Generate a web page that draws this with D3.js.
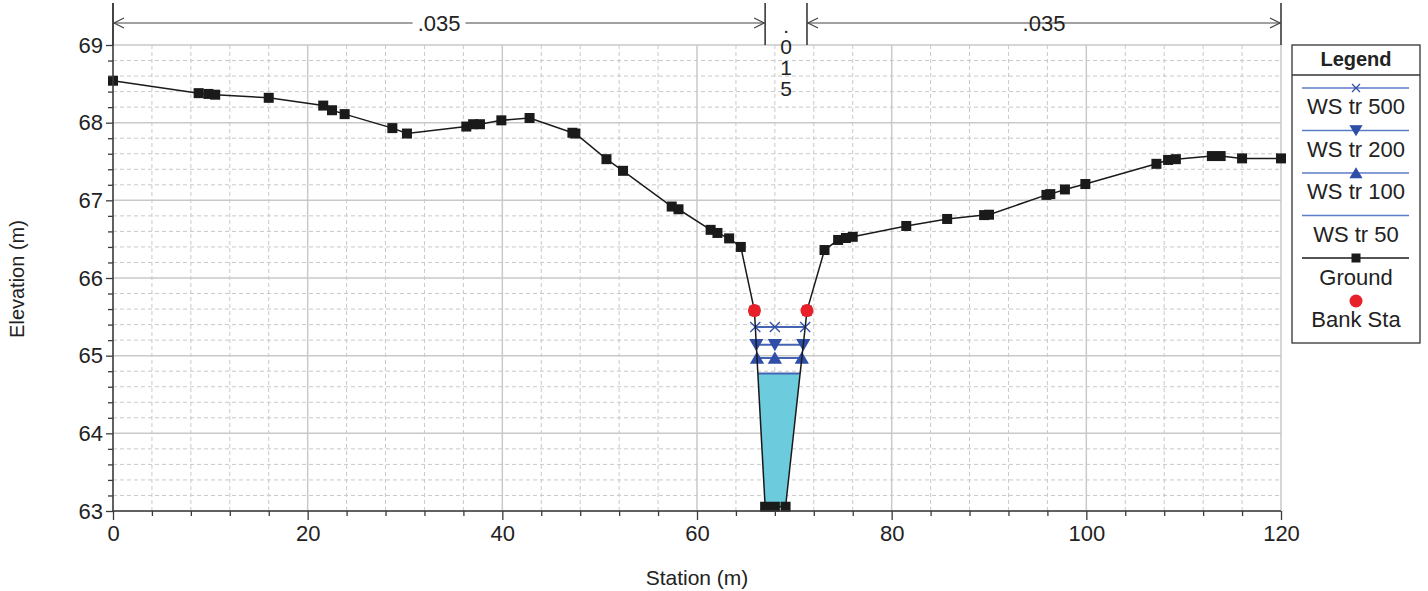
<!DOCTYPE html>
<html>
<head>
<meta charset="utf-8">
<script src="https://cdn.jsdelivr.net/npm/d3@7"></script>
<style>
  html, body { margin: 0; padding: 0; background: #fff; }
  svg { display: block; font-family: "Liberation Sans", Arial, sans-serif; }
</style>
</head>
<body>
<svg id="chart" width="1428" height="591"></svg>
<script>
// ---------- data ----------
const groundSta = [0, 8.8, 9.8, 10.5, 16.0, 21.6, 22.5, 23.8, 28.7, 30.2, 36.3, 37.0, 37.7, 39.9, 42.8, 47.2, 47.5,
  50.7, 52.4, 57.4, 58.1, 61.4, 62.1, 63.3, 64.5, 65.9, 67.0, 68.0, 69.1, 71.3, 73.1, 74.5, 75.3, 76.0, 81.5, 85.7,
  89.5, 90.0, 95.9, 96.3, 97.8, 99.9, 107.2, 108.4, 109.2, 112.9, 113.8, 116.0, 120];
const groundElev = [68.54, 68.38, 68.37, 68.36, 68.32, 68.22, 68.16, 68.11, 67.93, 67.86, 67.95, 67.98, 67.98, 68.03,
  68.06, 67.87, 67.86, 67.53, 67.38, 66.92, 66.885, 66.62, 66.58, 66.51, 66.40, 65.58, 63.055, 63.055, 63.055, 65.58,
  66.36, 66.49, 66.515, 66.53, 66.67, 66.76, 66.81, 66.815, 67.07, 67.08, 67.14, 67.21, 67.47, 67.52, 67.53, 67.57,
  67.57, 67.54, 67.54];
const bankSta = [65.9, 71.3];
const bankElev = [65.58, 65.58];
const wsNames = ["WS tr 500", "WS tr 200", "WS tr 100", "WS tr 50"];
const wsElev = [65.37, 65.14, 64.97, 64.77];
const wsMarkers = ["cross", "triDown", "triUp", "none"];
const nBreaks = [0, 67.0, 71.3, 120];
const nValues = [".035", ".015", ".035"];
const xMajorTicks = [0, 20, 40, 60, 80, 100, 120];
const yMajorTicks = [63, 64, 65, 66, 67, 68, 69];
const legendItems = ["WS tr 500", "WS tr 200", "WS tr 100", "WS tr 50", "Ground", "Bank Sta"];

// ---------- layout ----------
const svg = d3.select("#chart");
const x = d3.scaleLinear().domain([0, 120]).range([113, 1281]);
const y = d3.scaleLinear().domain([63, 69]).range([511, 45]);
const xMinor = d3.range(0, 120.001, 4).filter(v => v % 20 !== 0);
const yMinor = d3.range(63, 69.0001, 0.2).map(v => +v.toFixed(1)).filter(v => Math.abs(v - Math.round(v)) > 1e-6);

const gridCol = "#c9c9c9", axisCol = "#3a3a3a", wsCol = "#4564b4", mkCol = "#2e4ea8";

svg.append("rect").attr("width", 1428).attr("height", 591).attr("fill", "#fff");

// grid
const grid = svg.append("g");
grid.selectAll(".vmin").data(xMinor).join("line")
  .attr("x1", d => x(d)).attr("x2", d => x(d)).attr("y1", y(69)).attr("y2", y(63))
  .attr("stroke", gridCol).attr("stroke-dasharray", "4,3").attr("stroke-width", 1);
grid.selectAll(".hmin").data(yMinor).join("line")
  .attr("y1", d => y(d)).attr("y2", d => y(d)).attr("x1", x(0)).attr("x2", x(120))
  .attr("stroke", gridCol).attr("stroke-dasharray", "4,3").attr("stroke-width", 1);
grid.selectAll(".vmaj").data(xMajorTicks).join("line")
  .attr("x1", d => x(d)).attr("x2", d => x(d)).attr("y1", y(69)).attr("y2", y(63))
  .attr("stroke", gridCol).attr("stroke-width", 1.5);
grid.selectAll(".hmaj").data(yMajorTicks).join("line")
  .attr("y1", d => y(d)).attr("y2", d => y(d)).attr("x1", x(0)).attr("x2", x(120))
  .attr("stroke", gridCol).attr("stroke-width", 1.5);

// ---------- water surface geometry ----------
const minE = d3.min(groundElev);
const bottomIdx = groundElev.map((e, i) => e === minE ? i : -1).filter(i => i >= 0);
const iLow = bottomIdx[0], iHigh = bottomIdx[bottomIdx.length - 1];
const midSta = groundSta[bottomIdx[Math.floor(bottomIdx.length / 2)]];
function crossings(level) {
  let left = null, right = null;
  for (let i = iLow; i > 0; i--) {
    if (groundElev[i - 1] >= level && groundElev[i] <= level) {
      const t = (level - groundElev[i]) / (groundElev[i - 1] - groundElev[i]);
      left = { s: groundSta[i] + t * (groundSta[i - 1] - groundSta[i]), i: i }; break;
    }
  }
  for (let i = iHigh; i < groundSta.length - 1; i++) {
    if (groundElev[i + 1] >= level && groundElev[i] <= level) {
      const t = (level - groundElev[i]) / (groundElev[i + 1] - groundElev[i]);
      right = { s: groundSta[i] + t * (groundSta[i + 1] - groundSta[i]), i: i }; break;
    }
  }
  return [left, right];
}

// fill for lowest WS
const lowIdx = wsElev.length - 1;
const [fl, fr] = crossings(wsElev[lowIdx]);
const poly = [[fl.s, wsElev[lowIdx]]];
for (let i = fl.i; i <= fr.i; i++) poly.push([groundSta[i], groundElev[i]]);
poly.push([fr.s, wsElev[lowIdx]]);
svg.append("path")
  .attr("d", d3.line().x(d => x(d[0])).y(d => y(d[1]))(poly) + "Z")
  .attr("fill", "#6ccbdc").attr("stroke", "none");

// WS lines
const markerPath = {
  cross: s => `M${-s},${-s}L${s},${s}M${-s},${s}L${s},${-s}`,
  triDown: s => `M${-s},${-s * 0.85}L${s},${-s * 0.85}L0,${s * 0.85}Z`,
  triUp: s => `M${-s},${s * 0.85}L${s},${s * 0.85}L0,${-s * 0.85}Z`,
  none: s => ""
};
wsElev.forEach((lev, k) => {
  const [l, r] = crossings(lev);
  svg.append("line").attr("x1", x(l.s)).attr("x2", x(r.s)).attr("y1", y(lev)).attr("y2", y(lev))
    .attr("stroke", wsCol).attr("stroke-width", 2);
  if (wsMarkers[k] !== "none") {
    const pts = [l.s, midSta, r.s];
    svg.selectAll(null).data(pts).join("path")
      .attr("transform", d => `translate(${x(d)},${y(lev)})`)
      .attr("d", markerPath[wsMarkers[k]](wsMarkers[k] === "cross" ? 5 : 6))
      .attr("fill", wsMarkers[k] === "cross" ? "none" : mkCol)
      .attr("stroke", mkCol).attr("stroke-width", 1.3);
  }
});

// ground
const groundPts = groundSta.map((s, i) => [s, groundElev[i]]);
svg.append("path").attr("d", d3.line().x(d => x(d[0])).y(d => y(d[1]))(groundPts))
  .attr("fill", "none").attr("stroke", "#1a1a1a").attr("stroke-width", 1.5);
svg.selectAll(null).data(groundPts).join("rect")
  .attr("x", d => x(d[0]) - 5).attr("y", d => y(d[1]) - 5).attr("width", 10).attr("height", 10)
  .attr("fill", "#1a1a1a");

// bank stations
svg.selectAll(null).data(bankSta).join("circle")
  .attr("cx", d => x(d)).attr("cy", (d, i) => y(bankElev[i])).attr("r", 6.5).attr("fill", "#e8202a");

// ---------- axes ----------
const tickFont = 22;
const yAxisMaj = d3.axisLeft(y).tickValues(yMajorTicks).tickSize(7).tickPadding(3).tickFormat(d3.format("d"));
const yAxisMin = d3.axisLeft(y).tickValues(yMinor).tickSize(5).tickFormat("");
const xAxisMaj = d3.axisBottom(x).tickValues(xMajorTicks).tickSize(9).tickPadding(5).tickFormat(d3.format("d"));
const xAxisMin = d3.axisBottom(x).tickValues(xMinor).tickSize(5).tickFormat("");

function styleAxis(g) {
  g.select(".domain").remove();
  g.selectAll(".tick line").attr("stroke", axisCol).attr("stroke-width", 1.3);
  g.selectAll(".tick text").attr("fill", "#222").style("font-size", tickFont + "px")
    .style("font-family", '"Liberation Sans", Arial, sans-serif');
}
svg.append("g").attr("transform", `translate(${x(0)},0)`).call(yAxisMin).call(styleAxis);
svg.append("g").attr("transform", `translate(${x(0)},0)`).call(yAxisMaj).call(styleAxis);
svg.append("g").attr("transform", `translate(0,${y(63)})`).call(xAxisMin).call(styleAxis);
svg.append("g").attr("transform", `translate(0,${y(63)})`).call(xAxisMaj).call(styleAxis);

// axis lines
svg.append("line").attr("x1", x(0)).attr("x2", x(0)).attr("y1", 3).attr("y2", y(63))
  .attr("stroke", axisCol).attr("stroke-width", 1.5);
svg.append("line").attr("x1", x(0)).attr("x2", x(120)).attr("y1", y(63)).attr("y2", y(63))
  .attr("stroke", axisCol).attr("stroke-width", 1.5);

// axis titles
svg.append("text").attr("x", x(60)).attr("y", 585).attr("text-anchor", "middle")
  .style("font-size", "21px").attr("fill", "#222").text("Station (m)");
svg.append("text").attr("transform", `translate(24,${(3 + y(63)) / 2 + 22}) rotate(-90)`)
  .attr("text-anchor", "middle").style("font-size", "20px").attr("fill", "#222").text("Elevation (m)");

// ---------- Manning's n annotations ----------
const annY = 23;
const ann = svg.append("g");
nBreaks.forEach(b => {
  ann.append("line").attr("x1", x(b)).attr("x2", x(b)).attr("y1", 3).attr("y2", y(69))
    .attr("stroke", axisCol).attr("stroke-width", 1.6);
});
nValues.forEach((v, k) => {
  const x0 = x(nBreaks[k]), x1 = x(nBreaks[k + 1]);
  const cx = (x0 + x1) / 2;
  if (x1 - x0 > 80) {
    ann.append("line").attr("x1", x0).attr("x2", x1).attr("y1", annY).attr("y2", annY)
      .attr("stroke", "#444").attr("stroke-width", 1.2);
    ann.append("path").attr("d", `M${x0 + 11},${annY - 5}L${x0 + 1},${annY}L${x0 + 11},${annY + 5}`)
      .attr("fill", "none").attr("stroke", "#444").attr("stroke-width", 1.2);
    ann.append("path").attr("d", `M${x1 - 11},${annY - 5}L${x1 - 1},${annY}L${x1 - 11},${annY + 5}`)
      .attr("fill", "none").attr("stroke", "#444").attr("stroke-width", 1.2);
    const t = ann.append("text").attr("x", cx).attr("y", annY + 8).attr("text-anchor", "middle")
      .style("font-size", "22px").attr("fill", "#222").text(v);
    const bb = t.node().getBBox();
    ann.insert("rect", "text").attr("x", bb.x - 5).attr("y", annY - 3).attr("width", bb.width + 10).attr("height", 6)
      .attr("fill", "#fff");
  } else {
    v.split("").forEach((ch, j) => {
      ann.append("text").attr("x", cx).attr("y", 33 + j * 21).attr("text-anchor", "middle")
        .style("font-size", "21px").attr("fill", "#222").text(ch);
    });
  }
});

// ---------- legend ----------
const lg = svg.append("g");
const lx0 = 1292, lx1 = 1420, lcx = (lx0 + lx1) / 2;
lg.append("rect").attr("x", lx0).attr("y", 45).attr("width", lx1 - lx0).attr("height", 298)
  .attr("fill", "#fff").attr("stroke", "#333").attr("stroke-width", 1.3);
lg.append("line").attr("x1", lx0).attr("x2", lx1).attr("y1", 75).attr("y2", 75)
  .attr("stroke", "#333").attr("stroke-width", 1.3);
lg.append("text").attr("x", lcx).attr("y", 66).attr("text-anchor", "middle")
  .style("font-size", "20px").style("font-weight", "bold").attr("fill", "#222").text("Legend");
const lineYs = [88, 130.5, 173, 215.5, 258];
legendItems.forEach((name, k) => {
  if (k < 4) {
    const ly = lineYs[k];
    lg.append("line").attr("x1", 1302).attr("x2", 1409).attr("y1", ly).attr("y2", ly)
      .attr("stroke", "#5d7cc6").attr("stroke-width", 1.5);
    if (wsMarkers[k] !== "none") {
      lg.append("path").attr("transform", `translate(${lcx},${ly})`)
        .attr("d", markerPath[wsMarkers[k]](wsMarkers[k] === "cross" ? 4 : 5.5))
        .attr("fill", wsMarkers[k] === "cross" ? "none" : mkCol)
        .attr("stroke", mkCol).attr("stroke-width", 1.2);
    }
    lg.append("text").attr("x", lcx).attr("y", ly + 26).attr("text-anchor", "middle")
      .style("font-size", "22px").attr("fill", "#222").text(name);
  } else if (k === 4) {
    const ly = lineYs[4];
    lg.append("line").attr("x1", 1302).attr("x2", 1409).attr("y1", ly).attr("y2", ly)
      .attr("stroke", "#1a1a1a").attr("stroke-width", 1.5);
    lg.append("rect").attr("x", lcx - 4.5).attr("y", ly - 4.5).attr("width", 9).attr("height", 9).attr("fill", "#1a1a1a");
    lg.append("text").attr("x", lcx).attr("y", 285).attr("text-anchor", "middle")
      .style("font-size", "22px").attr("fill", "#222").text(name);
  } else {
    lg.append("circle").attr("cx", lcx).attr("cy", 301).attr("r", 6.5).attr("fill", "#e8202a");
    lg.append("text").attr("x", lcx).attr("y", 327).attr("text-anchor", "middle")
      .style("font-size", "22px").attr("fill", "#222").text(name);
  }
});
</script>
</body>
</html>
